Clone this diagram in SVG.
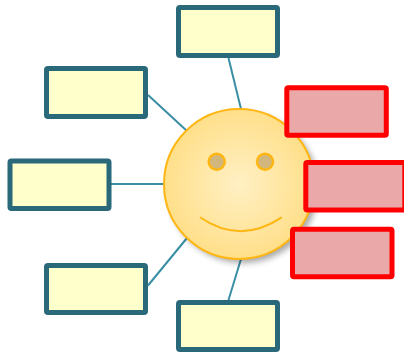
<svg xmlns="http://www.w3.org/2000/svg" width="404" height="354" viewBox="0 0 404 354">
<style>
.conn{stroke:#3a8ea4;stroke-width:2;fill:none}
.box{fill:#ffffcc;stroke:#29697a;stroke-width:5}
.red{fill:#eaa8a8;stroke:#ff0000;stroke-width:5}
</style>
<defs>
<radialGradient id="face" cx="0.5" cy="0.5" r="0.5">
<stop offset="0" stop-color="#fff0c4"/>
<stop offset="1" stop-color="#ffdf8a"/>
</radialGradient>
<filter id="sh" x="-20%" y="-20%" width="150%" height="150%">
<feGaussianBlur stdDeviation="3"/>
</filter>
</defs>
<rect width="404" height="354" fill="#ffffff"/>
<g id="connectors">
<line class="conn" x1="228.5" y1="58" x2="241" y2="109"/>
<line class="conn" x1="148" y1="95" x2="187" y2="131"/>
<line class="conn" x1="111" y1="184" x2="165" y2="184"/>
<line class="conn" x1="148" y1="285.5" x2="187" y2="238"/>
<line class="conn" x1="228.5" y1="300" x2="241" y2="259"/>
</g>
<g id="face-node">
<circle cx="243" cy="188" r="75" fill="#000" opacity="0.35" filter="url(#sh)"/>
<circle cx="239" cy="184" r="75" fill="url(#face)" stroke="#ffb612" stroke-width="2"/>
<circle cx="216.7" cy="161.7" r="8" fill="#d1b77d" stroke="#ffb612" stroke-width="2.5"/>
<circle cx="265" cy="161.7" r="8" fill="#d1b77d" stroke="#ffb612" stroke-width="2.5"/>
<path d="M200 217.3 Q240 245 281.7 217.3" fill="none" stroke="#ffb612" stroke-width="2"/>
</g>
<g id="box-top"><rect class="box" x="178.5" y="7.5" width="99" height="48" rx="1.5"/></g>
<g id="box-upper-left"><rect class="box" x="46.5" y="68.5" width="99" height="48" rx="1.5"/></g>
<g id="box-left"><rect class="box" x="10" y="161" width="99" height="47.5" rx="1.5"/></g>
<g id="box-lower-left"><rect class="box" x="46.5" y="265.5" width="99" height="47" rx="1.5"/></g>
<g id="box-bottom"><rect class="box" x="178.5" y="302.5" width="99" height="47" rx="1.5"/></g>
<g id="red-top"><rect class="red" x="286.8" y="87.8" width="99.5" height="47.5" rx="1.5"/></g>
<g id="red-middle"><rect class="red" x="305.8" y="162.5" width="99" height="47.5" rx="1.5"/></g>
<g id="red-bottom"><rect class="red" x="292.5" y="229.2" width="99.5" height="47.5" rx="1.5"/></g>
</svg>
